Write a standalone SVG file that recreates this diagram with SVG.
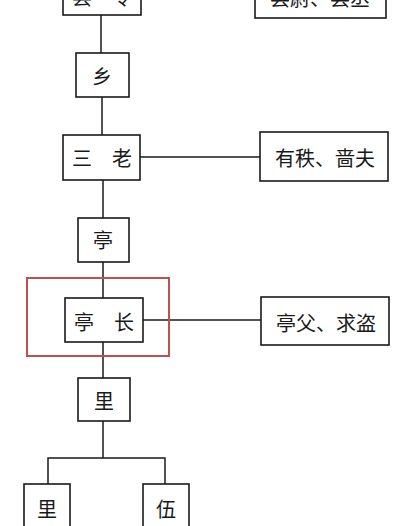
<svg xmlns="http://www.w3.org/2000/svg" width="400" height="526" viewBox="0 0 400 526">
<style>
.box{fill:#fff;stroke:#1a1a1a;stroke-width:1.6}
.ln{stroke:#1a1a1a;stroke-width:1.5;fill:none}
.t{font-family:"Noto Sans CJK SC","Noto Sans CJK JP",sans-serif;font-size:20px;fill:#1a1a1a;text-anchor:middle;dominant-baseline:central}
.hl{fill:none;stroke:#c0504d;stroke-width:2}
</style>
<rect width="400" height="526" fill="#fff"/>
<g id="connectors">
<line class="ln" x1="101" y1="15" x2="101" y2="53"/>
<line class="ln" x1="102" y1="97" x2="102" y2="135"/>
<line class="ln" x1="103" y1="180" x2="103" y2="218"/>
<line class="ln" x1="140" y1="157" x2="260" y2="157"/>
<line class="ln" x1="103" y1="262" x2="103" y2="298"/>
<line class="ln" x1="143" y1="320" x2="261" y2="320"/>
<line class="ln" x1="103" y1="342" x2="103" y2="378"/>
<line class="ln" x1="103" y1="421" x2="103" y2="458"/>
<polyline class="ln" points="48,484 48,458 165,458 165,484"/>
</g>
<g id="n-xianling"><rect class="box" x="63" y="-20" width="78" height="35"/><text class="t" x="102" y="-4">县　令</text></g>
<g id="n-xiancheng"><rect class="box" x="255" y="-20" width="131" height="38"/><text class="t" x="320" y="-3">县尉、县丞</text></g>
<g id="n-xiang"><rect class="box" x="76" y="53" width="53" height="44"/><text class="t" x="102" y="75">乡</text></g>
<g id="n-sanlao"><rect class="box" x="63" y="135" width="77" height="45"/><text class="t" x="102" y="157">三　老</text></g>
<g id="n-youzhi"><rect class="box" x="260" y="132" width="128" height="49"/><text class="t" x="325" y="157">有秩、啬夫</text></g>
<g id="n-ting"><rect class="box" x="78" y="218" width="51" height="44"/><text class="t" x="103" y="239">亭</text></g>
<g id="n-tingzhang"><rect class="hl" x="27" y="278" width="142" height="78"/><rect class="box" x="65" y="298" width="78" height="44"/><text class="t" x="104" y="321">亭　长</text></g>
<g id="n-tingfu"><rect class="box" x="261" y="297" width="128" height="48"/><text class="t" x="326" y="322">亭父、求盗</text></g>
<g id="n-li"><rect class="box" x="78" y="378" width="52" height="43"/><text class="t" x="104" y="400">里</text></g>
<g id="n-li2"><rect class="box" x="24" y="484" width="46" height="50"/><text class="t" x="47" y="508">里</text></g>
<g id="n-wu"><rect class="box" x="143" y="484" width="46" height="50"/><text class="t" x="166" y="508">伍</text></g>
</svg>
